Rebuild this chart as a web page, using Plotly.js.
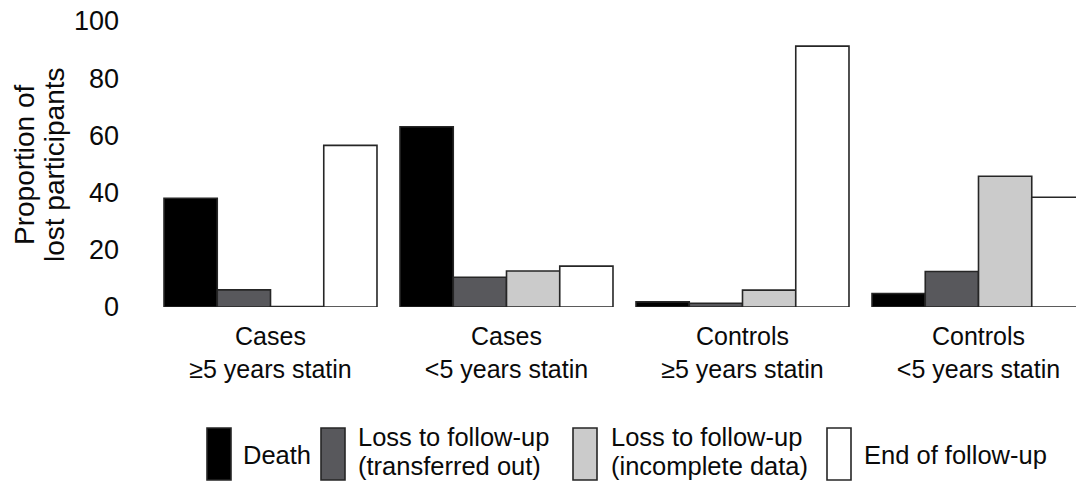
<!DOCTYPE html>
<html>
<head>
<meta charset="utf-8">
<script src="https://cdn.plot.ly/plotly-3.0.1.min.js"></script>
<style>html,body{margin:0;padding:0;background:#fff;}#chart{width:1076px;height:482px;}</style>
</head>
<body>
<div id="chart"></div>
<script>
// ---- data ----
const categories = ["Cases<br>≥5 years statin", "Cases<br><5 years statin", "Controls<br>≥5 years statin", "Controls<br><5 years statin"];
const seriesNames = ["Death", "Loss to follow-up (transferred out)", "Loss to follow-up (incomplete data)", "End of follow-up"];
const legendLines = [["Death"], ["Loss to follow-up", "(transferred out)"], ["Loss to follow-up", "(incomplete data)"], ["End of follow-up"]];
const yTitleLines = ["Proportion of", "lost participants"];
const death = [38, 63, 1.8, 4.7];
const transferredOut = [6, 10.4, 1.3, 12.4];
const incompleteData = [0.2, 12.6, 5.9, 45.7];
const endOfFollowUp = [56.5, 14.3, 91.2, 38.4];
const yTicks = [0, 20, 40, 60, 80, 100];

// ---- style ----
const colors = ["#000000", "#58585c", "#cbcbcb", "#ffffff"];
const FONT = "Liberation Sans, Arial, sans-serif";
const TXT = "#0a0a0a";
const W = 1076, H = 482;
const M = {l: 130, r: 0, t: 21, b: 175};
const PW = W - M.l - M.r, PH = H - M.t - M.b;
const catPx = 236, firstCenterPx = 270.5;
const x0 = -(firstCenterPx - M.l) / catPx;
const x1 = x0 + PW / catPx;

const values = [death, transferredOut, incompleteData, endOfFollowUp];
const traces = values.map((v, i) => ({
  type: "bar",
  name: seriesNames[i],
  x: categories,
  y: v,
  marker: {color: colors[i], line: {color: "#262626", width: 1.6}},
  showlegend: false,
  hoverinfo: "x+y+name"
}));

const px2x = px => (px - M.l) / PW;
const py2y = py => (H - M.b - py) / PH;
const shapes = [], annotations = [];

// y-axis title (two lines, tight spacing)
const yTitleX = [24, 54];
yTitleLines.forEach((t, k) => annotations.push({
  xref: "paper", yref: "paper", x: px2x(yTitleX[k]), y: py2y(165),
  xanchor: "center", yanchor: "middle", textangle: -90, showarrow: false, text: t,
  font: {family: FONT, size: 28, color: TXT}
}));

// custom legend (tall swatches)
const swatchX = [207, 321, 573, 827];
const textX = [242, 357, 610, 863];
legendLines.forEach((lines, i) => {
  shapes.push({type: "rect", xref: "paper", yref: "paper",
    x0: px2x(swatchX[i]), x1: px2x(swatchX[i] + 24), y0: py2y(480), y1: py2y(428),
    fillcolor: colors[i], line: {color: "#262626", width: 1.6}});
  const ys = lines.length === 1 ? [455] : [437, 466];
  lines.forEach((t, k) => annotations.push({
    xref: "paper", yref: "paper", x: px2x(textX[i]), y: py2y(ys[k]),
    xanchor: "left", yanchor: "middle", showarrow: false, text: t, borderpad: 0,
    font: {family: FONT, size: 25.5, color: TXT}
  }));
});

const layout = {
  width: W, height: H,
  margin: M,
  paper_bgcolor: "#fff", plot_bgcolor: "#fff",
  barmode: "group", bargap: 0.0975, bargroupgap: 0,
  font: {family: FONT, size: 25, color: TXT},
  xaxis: {type: "category", range: [x0, x1], showgrid: false, zeroline: false, showline: false,
    ticks: "", tickfont: {family: FONT, size: 25, color: TXT}, ticklabelstandoff: 12, automargin: false},
  yaxis: {range: [0, 100], tickvals: yTicks, showgrid: false, zeroline: false, showline: false,
    ticks: "", tickfont: {family: FONT, size: 27, color: TXT}, ticklabelstandoff: 10, automargin: false},
  shapes: shapes,
  annotations: annotations,
  showlegend: false
};

Plotly.newPlot("chart", traces, layout, {displayModeBar: false, staticPlot: true});
</script>
</body>
</html>
